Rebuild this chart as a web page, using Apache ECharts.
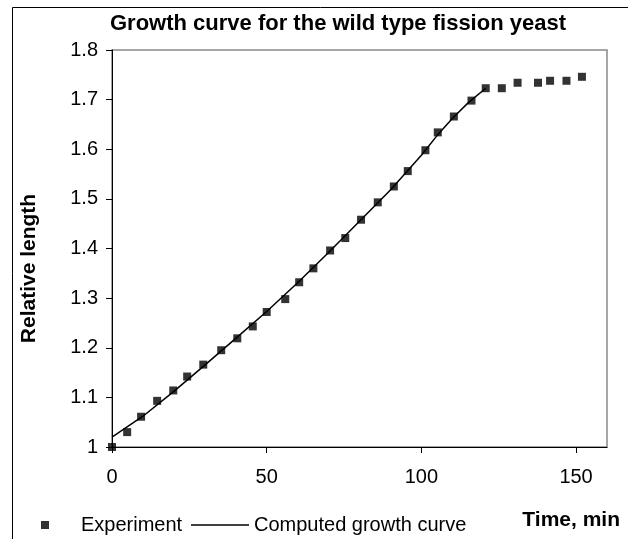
<!DOCTYPE html>
<html>
<head>
<meta charset="utf-8">
<script src="https://cdn.jsdelivr.net/npm/echarts@6/dist/echarts.min.js"></script>
<style>
html,body{margin:0;padding:0;background:#fff;}
#chart{width:628px;height:539px;}
</style>
</head>
<body>
<div id="chart"></div>
<script>
// Experiment data (time, min / relative length)
const expTime = [0, 4.9, 9.4, 14.6, 19.8, 24.3, 29.5, 35.3, 40.5, 45.5, 50.0, 56.0, 60.5, 65.1, 70.5, 75.4, 80.5, 85.9, 91.1, 95.6, 101.3, 105.3, 110.5, 116.2, 120.8, 126.0, 131.1, 137.7, 141.6, 146.9, 151.9];
const expLength = [1.000, 1.030, 1.061, 1.093, 1.114, 1.142, 1.166, 1.195, 1.219, 1.243, 1.272, 1.298, 1.332, 1.360, 1.396, 1.421, 1.458, 1.493, 1.525, 1.556, 1.598, 1.634, 1.666, 1.698, 1.723, 1.723, 1.734, 1.734, 1.738, 1.738, 1.746];
// Computed growth curve
const fitTime = [0, 10, 20, 30, 40, 50, 60, 70, 80, 90, 100, 105, 110, 115, 120.8];
const fitLength = [1.020, 1.062, 1.112, 1.165, 1.219, 1.273, 1.331, 1.392, 1.455, 1.518, 1.588, 1.627, 1.662, 1.693, 1.723];
// Axis ticks
const xTicks = [0, 50, 100, 150];
const yMin = 1, yMax = 1.8, yStep = 0.1;
const xMin = 0, xMax = 160;

const titleText = 'Growth curve for the wild type fission yeast';
const xName = 'Time, min';
const yName = 'Relative length';
const seriesNames = ['Experiment', 'Computed growth curve'];

const FONT = 'Liberation Sans, Arial, sans-serif';
const chart = echarts.init(document.getElementById('chart'), null, {renderer: 'canvas'});
chart.setOption({
  animation: false,
  backgroundColor: '#fff',
  textStyle: {fontFamily: FONT},
  title: {
    text: titleText,
    left: 333, top: 8, textAlign: 'center',
    textStyle: {fontFamily: FONT, fontWeight: 'bold', fontSize: 22, color: '#000'}
  },
  graphic: [{
    type: 'rect', left: 10, top: 5, z: -1,
    shape: {width: 640, height: 560},
    style: {fill: 'none', stroke: '#000', lineWidth: 1}
  }],
  grid: {left: 112, top: 50, right: 21, bottom: 92, show: true, borderColor: '#888', borderWidth: 1.5},
  legend: [{
    data: [{name: seriesNames[0], icon: 'rect'}],
    left: 36, top: 510, itemWidth: 8, itemHeight: 8, itemGap: 10,
    textStyle: {fontFamily: FONT, fontSize: 20, color: '#000', padding: [0, 0, 0, 27]}
  }, {
    data: [{name: seriesNames[1], icon: 'rect'}],
    left: 186, top: 510, itemWidth: 58, itemHeight: 1.5, itemGap: 4,
    textStyle: {fontFamily: FONT, fontSize: 20, color: '#000', padding: [0, 0, 0, 0]}
  }],
  xAxis: {
    type: 'value', min: xMin, max: xMax, interval: 50,
    name: xName, nameLocation: 'end', nameGap: 13,
    nameTextStyle: {fontFamily: FONT, fontWeight: 'bold', fontSize: 21, color: '#000', align: 'right', verticalAlign: 'top', padding: [63, 0, 0, 0]},
    axisLine: {show: true, onZero: false, lineStyle: {color: '#000', width: 1}},
    axisTick: {show: true, length: 6, customValues: xTicks, lineStyle: {color: '#000'}},
    axisLabel: {customValues: xTicks, margin: 20, fontFamily: FONT, fontSize: 20, color: '#000'},
    splitLine: {show: false}
  },
  yAxis: {
    type: 'value', min: yMin, max: yMax, interval: yStep,
    name: yName, nameLocation: 'middle', nameGap: 72, nameRotate: 90,
    nameTextStyle: {fontFamily: FONT, fontWeight: 'bold', fontSize: 21, color: '#000', padding: [0, 40, 0, 0]},
    axisLine: {show: true, onZero: false, lineStyle: {color: '#000', width: 1}},
    axisTick: {show: true, length: 6, lineStyle: {color: '#000'}},
    axisLabel: {margin: 14, fontFamily: FONT, fontSize: 20, color: '#000',
      formatter: v => String(Math.round(v * 10) / 10)},
    splitLine: {show: false}
  },
  series: [{
    name: seriesNames[0], type: 'scatter',
    data: expTime.map((t, i) => [t, expLength[i]]),
    symbol: 'rect', symbolSize: 8,
    itemStyle: {color: '#000'}, z: 3
  }, {
    name: seriesNames[1], type: 'line',
    data: fitTime.map((t, i) => [t, fitLength[i]]),
    showSymbol: false, symbol: 'none', smooth: false,
    lineStyle: {color: '#000', width: 1.5}, itemStyle: {color: '#000'}, z: 2
  }]
});
</script>
</body>
</html>
